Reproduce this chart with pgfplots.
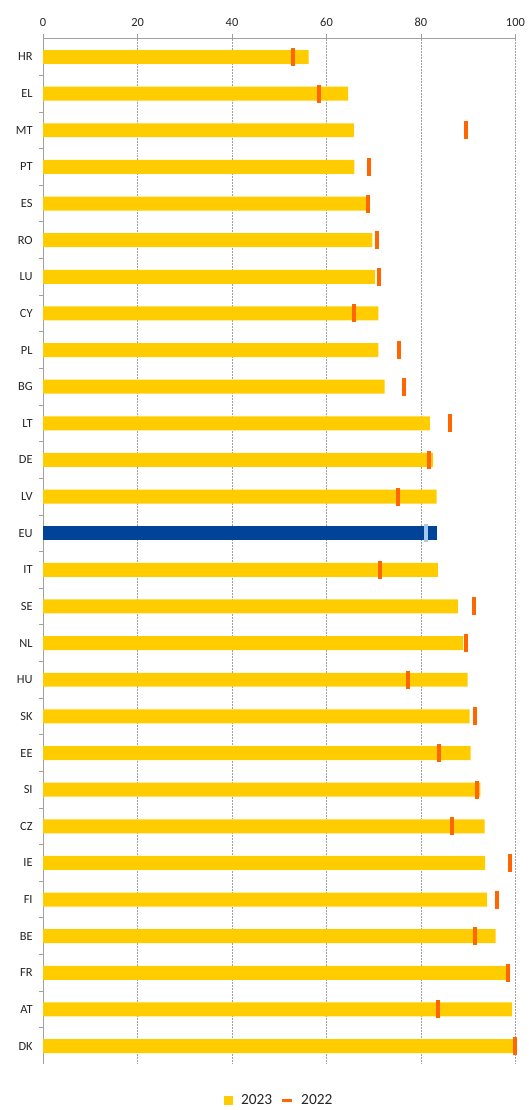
\documentclass[border=0pt]{standalone}
\usepackage{pgfplots}
\usepackage{pgfplotstable}
\pgfplotsset{compat=1.18}
\usepackage{fontspec}
\setmainfont{Carlito}
\definecolor{cyel}{HTML}{FFCC00}
\definecolor{cora}{HTML}{FF6600}
\definecolor{cblue}{HTML}{00449A}
\definecolor{clblue}{HTML}{A9C8EE}
\definecolor{cgrid}{HTML}{A0A0A0}

\pgfplotstableread{
i v23 v22
0 56.2 53.0
1 64.6 58.4
2 65.8 89.5
3 65.9 69.0
4 68.5 68.7
5 69.7 70.6
6 70.3 71.2
7 71.0 65.9
8 71.0 75.3
9 72.3 76.4
10 81.9 86.2
11 82.6 81.6
12 83.3 75.1
14 83.6 71.4
15 87.8 91.2
16 88.9 89.5
17 89.9 77.2
18 90.3 91.5
19 90.5 83.8
20 92.6 91.9
21 93.5 86.5
22 93.6 98.9
23 94.0 96.0
24 95.8 91.4
25 98.9 98.5
26 99.3 83.6
27 100.0 100.0
}\countries

\pgfplotstableread{
i v23 v22
13 83.5 81.1
}\eu

\begin{document}
\begin{tikzpicture}
\path (-43.2bp,-44bp) rectangle (483.8bp,1066bp);
\begin{axis}[
  scale only axis,
  width=473bp, height=1027.3bp,
  xmin=0, xmax=100,
  ymin=-0.5, ymax=27.5,
  y dir=reverse,
  clip=false,
  axis x line*=top,
  axis y line*=left,
  axis line style={cgrid, line width=0.8bp},
  xtick={0,20,...,100},
  ytick={0,...,27},
  yticklabels={HR,EL,MT,PT,ES,RO,LU,CY,PL,BG,LT,DE,LV,EU,IT,SE,NL,HU,SK,EE,SI,CZ,IE,FI,BE,FR,AT,DK},
  minor y tick num=1,
  tick align=outside,
  major y tick style={draw=none},
  minor y tick style={cgrid, line width=0.8bp},
  minor tick length=4bp,
  major x tick style={cgrid, line width=0.8bp},
  major tick length=5bp,
  xmajorgrids,
  major grid style={cgrid, line width=0.7bp, dash pattern=on 2bp off 1bp},
  /pgf/number format/assume math mode=true,
  ticklabel style={font=\fontsize{12.5}{14}\selectfont, text=black!85},
  xticklabel style={yshift=4bp},
  yticklabel style={xshift=-2bp},
  legend style={at={(0.5,0)}, anchor=north, yshift=-26bp, draw=none,
    font=\fontsize{15.5}{17}\selectfont, text=black!85, column sep=6bp},
  legend columns=2,
]
\addplot[xbar, bar width=14bp, bar shift=0pt, fill=cyel, draw=none,
  legend image code/.code={\fill[cyel] (0bp,-4.5bp) rectangle (9bp,4.5bp);}]
  table[x=v23, y=i] {\countries};
\addlegendentry{2023}
\addplot[only marks, mark=|, mark size=9bp, mark options={draw=cora, line width=4bp},
  legend image code/.code={\draw[cora, line width=3bp] (0bp,0bp) -- (10bp,0bp);}]
  table[x=v22, y=i] {\countries};
\addlegendentry{2022}
\addplot[xbar, bar width=14bp, bar shift=0pt, fill=cblue, draw=none, forget plot]
  table[x=v23, y=i] {\eu};
\addplot[only marks, mark=|, mark size=9bp, mark options={draw=clblue, line width=4bp}, forget plot]
  table[x=v22, y=i] {\eu};
\end{axis}
\end{tikzpicture}
\end{document}
